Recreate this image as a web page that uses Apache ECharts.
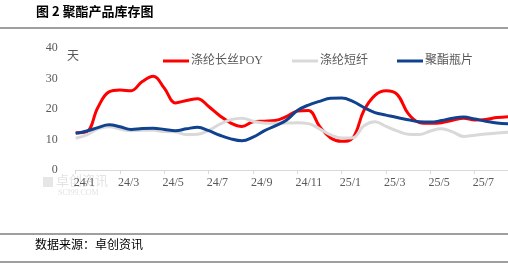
<!DOCTYPE html>
<html><head><meta charset="utf-8">
<script src="https://cdn.jsdelivr.net/npm/echarts@6/dist/echarts.min.js"></script>
<style>html,body{margin:0;padding:0;background:#fff}#c{width:508px;height:264px}</style>
</head><body><div id="c"></div>
<script>
// half-month points, 24/1 .. 25/8 (second half)
const months = ['24/1','24/2','24/3','24/4','24/5','24/6','24/7','24/8','24/9','24/10','24/11','24/12','25/1','25/2','25/3','25/4','25/5','25/6','25/7','25/8'];
const categories = [];
months.forEach(m => { categories.push(m + '上'); categories.push(m + '下'); });

const poy = [12.2,12.6,20.5,25.6,26.2,26.0,29.0,30.7,26.8,22.0,22.8,23.4,20.8,17.8,15.4,14.3,15.8,16.0,16.2,17.5,19.3,19.5,14.3,10.5,9.4,10.5,19.5,24.5,26.0,24.8,18.5,15.6,15.3,15.5,16.3,17.0,16.4,16.6,17.2,17.5];
const psf = [10.4,11.5,13.5,14.2,13.4,12.9,13.0,13.0,12.6,12.5,11.6,11.7,13.0,15.0,16.5,17.0,16.0,15.4,15.3,15.4,15.5,15.2,13.5,11.5,10.5,10.6,14.5,15.8,14.3,12.8,11.7,11.6,12.8,13.5,12.5,11.0,11.4,11.8,12.1,12.4];
const pet = [12.0,12.8,13.9,14.8,14.2,13.3,13.6,13.7,13.3,12.9,13.5,14.0,12.9,11.4,10.2,9.6,10.8,12.8,14.5,16.3,19.5,21.3,22.5,23.5,23.6,22.5,20.5,18.8,18.0,17.2,16.5,15.8,15.7,16.2,17.0,17.4,16.7,16.0,15.4,15.2];
const seriesNames = ['涤纶长丝POY','涤纶短纤','聚酯瓶片'];
const yTicks = [0,10,20,30,40];

const FONT = '"Liberation Serif","Noto Sans CJK SC",serif';
const chart = echarts.init(document.getElementById('c'), null, {renderer:'canvas'});
chart.setOption({
  animation:false,
  backgroundColor:'#fff',
  grid:{left:75.7, right:-5.5, top:48, bottom:94, containLabel:false},
  legend:{
    left:158, top:50, itemWidth:26, itemHeight:3, itemGap:29, icon:'rect',
    textStyle:{fontFamily:FONT, fontSize:12, color:'#595959', padding:[0,0,0,-3]},
    data:seriesNames
  },
  xAxis:{
    type:'category', boundaryGap:false, data:categories,
    axisLine:{lineStyle:{color:'#D9D9D9', width:1}},
    axisTick:{interval:3, length:4, lineStyle:{color:'#D9D9D9'}},
    axisLabel:{interval:3, align:'left', margin:7, fontFamily:FONT, fontSize:12, color:'#595959',
      formatter:v=>v.slice(0,-1), padding:[0,0,0,-2]}
  },
  yAxis:{
    type:'value', min:yTicks[0], max:yTicks[yTicks.length-1], interval:10,
    axisLine:{show:false}, axisTick:{show:false}, splitLine:{show:false},
    axisLabel:{margin:18, fontFamily:FONT, fontSize:12, color:'#595959'}
  },
  series:[
    {name:seriesNames[0], type:'line', data:poy, smooth:0.4, symbol:'none', lineStyle:{color:'#FF0000', width:3}, itemStyle:{color:'#FF0000'}},
    {name:seriesNames[1], type:'line', data:psf, smooth:0.4, symbol:'none', lineStyle:{color:'#D9D9D9', width:3}, itemStyle:{color:'#D9D9D9'}},
    {name:seriesNames[2], type:'line', data:pet, smooth:0.4, symbol:'none', lineStyle:{color:'#11428F', width:3}, itemStyle:{color:'#11428F'}}
  ],
  graphic:[
    {type:'text', left:36, top:5, style:{text:'图 2 聚酯产品库存图', font:'bold 13px "Noto Sans CJK SC",sans-serif', fill:'#000'}},
    {type:'line', shape:{x1:0,y1:28,x2:508,y2:28}, style:{stroke:'#7F7F7F', lineWidth:1.5}},
    {type:'text', left:67, top:49, style:{text:'天', font:'12px "Noto Sans CJK SC",sans-serif', fill:'#595959'}},
    {type:'rect', shape:{x:43,y:177,width:10,height:10}, style:{fill:'#E6E6E6'}},
    {type:'text', left:56, top:174, style:{text:'卓创资讯', font:'13px "Noto Sans CJK SC",sans-serif', fill:'#E3E3E3'}},
    {type:'text', left:58, top:189, style:{text:'SCI99.COM', font:'8px "Liberation Serif",serif', fill:'#E3E3E3'}},
    {type:'line', shape:{x1:0,y1:234,x2:508,y2:234}, style:{stroke:'#7F7F7F', lineWidth:1.5}},
    {type:'text', left:35, top:238, style:{text:'数据来源：卓创资讯', font:'12px "Noto Sans CJK SC",sans-serif', fill:'#000'}},
    {type:'line', shape:{x1:0,y1:262,x2:508,y2:262}, style:{stroke:'#7F7F7F', lineWidth:1.5}}
  ]
});
</script></body></html>
